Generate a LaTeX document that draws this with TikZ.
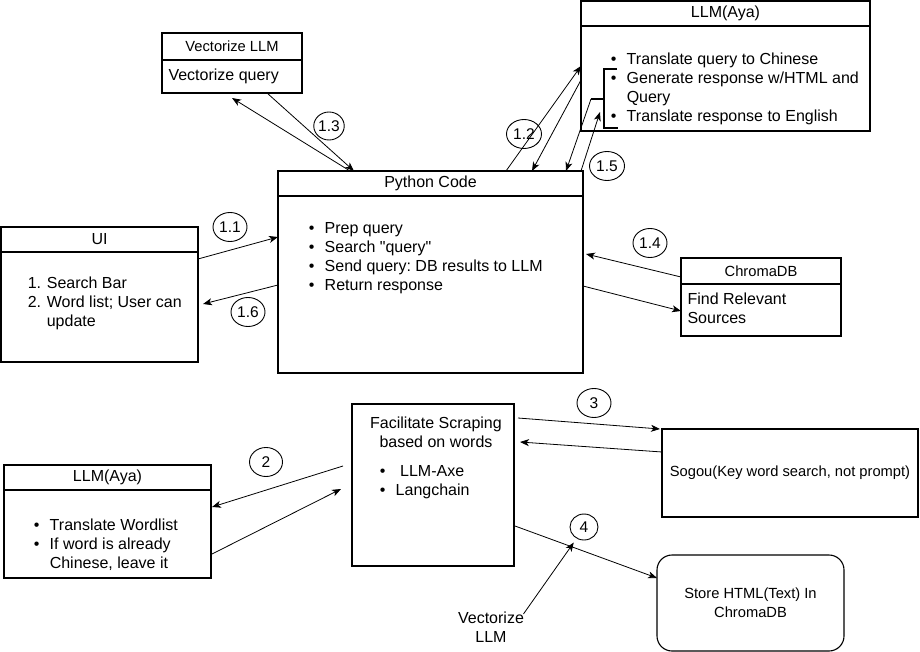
\documentclass[tikz,border=0pt]{standalone}
\usepackage{fontspec}
\setmainfont{Liberation Sans}
\usetikzlibrary{arrows.meta,shapes.geometric}

\newcommand{\blt}{\makebox[16pt][l]{\textbullet}}
\newcommand{\nbr}[1]{\makebox[19pt][l]{#1}}
\frenchspacing

\begin{document}
\begin{tikzpicture}[x = 1pt, y = -1pt, line width = 1.1pt,
                        font = \fontsize{16}{19}\selectfont,
                        box/.style = {draw, rectangle, anchor = north west, inner sep = 0pt, outer sep = 0pt},
                        small/.style = {font = \fontsize{14.7}{19}\selectfont},
                        txt/.style = {inner sep = 0pt, align = left, anchor = north west},
                        tag/.style = {draw, ellipse, inner sep = 0pt, minimum width = 34pt, minimum height = 29pt,
                                      line width = 0.9pt, font = \fontsize{15.5}{19}\selectfont},
                        link/.style = {line width = 0.8pt, -{Stealth[length = 9pt, width = 7pt, inset = 2.5pt]}}]
      \useasboundingbox (0, 0) rectangle (920, 652);

      \node [box, small, minimum width = 140pt, minimum height = 27pt] (vech) at (162, 33) {Vectorize LLM};
      \node [box, minimum width = 140pt, minimum height = 33pt] (vecb) at (162, 60) {};
      \node [txt] (vect) at (168, 68) {Vectorize query};

      \node [box, minimum width = 289pt, minimum height = 25pt] (llmh) at (581, 1) {LLM(Aya)};
      \node [box, minimum width = 289pt, minimum height = 105pt] (llmb) at (581, 26) {};
      \node [txt] (llmt) at (610.2, 52) {\blt Translate query to Chinese\\ \blt Generate response w/HTML and\\
                                         \hspace*{16pt}Query\\ \blt Translate response to English};

      \node [box, minimum width = 305pt, minimum height = 25pt] (pyh) at (278, 171) {Python Code};
      \node [box, minimum width = 305pt, minimum height = 177pt] (pyb) at (278, 196) {};
      \node [txt] (pyt) at (308.2, 222) {\blt Prep query\\ \blt Search \textquotedbl query\textquotedbl\\
                                         \blt Send query: DB results to LLM\\ \blt Return response};

      \node [box, minimum width = 197pt, minimum height = 25pt] (uih) at (1, 227) {UI};
      \node [box, minimum width = 197pt, minimum height = 110pt] (uib) at (1, 252) {};
      \node [txt] (uit) at (27.3, 276) {\nbr{1.}Search Bar\\ \nbr{2.}Word list; User can\\ \hspace*{19pt}update};

      \node [box, small, minimum width = 160pt, minimum height = 26pt] (chh) at (681, 258) {ChromaDB};
      \node [box, minimum width = 160pt, minimum height = 52pt] (chb) at (681, 284) {};
      \node [txt] (cht) at (687, 292) {Find Relevant\\ Sources};

      \node [box, minimum width = 162pt, minimum height = 162pt] (fac) at (352, 404) {};
      \node [txt, anchor = north, align = center] (fact) at (436, 416) {Facilitate Scraping\\ based on words};
      \node [txt] (facl) at (379.2, 465) {\blt\ LLM-Axe\\ \blt Langchain};

      \node [box, small, minimum width = 256pt, minimum height = 88pt] (sog) at (662, 429)
            {Sogou(Key word search, not prompt)};
      \node [box, small, rounded corners = 15pt, align = center, minimum width = 187pt, minimum height = 96pt]
            (sto) at (657, 555) {Store HTML(Text) In\\ ChromaDB};

      \node [box, minimum width = 207pt, minimum height = 25pt] (l2h) at (4, 465) {LLM(Aya)};
      \node [box, minimum width = 207pt, minimum height = 88pt] (l2b) at (4, 490) {};
      \node [txt] (l2t) at (33.2, 518) {\blt Translate Wordlist\\ \blt If word is already\\
                                        \hspace*{16pt}Chinese, leave it};

      \node [txt, anchor = north, align = center] (vl) at (491, 611) {Vectorize\\ LLM};

      \node [tag, minimum width = 30pt, minimum height = 28pt] (c13) at (329, 126) {1.3};
      \node [tag, minimum width = 35pt, minimum height = 29pt] (c12) at (524, 134) {1.2};
      \node [tag, minimum width = 35pt, minimum height = 29pt] (c15) at (607, 166) {1.5};
      \node [tag] (c11) at (230, 227) {1.1};
      \node [tag] (c16) at (248, 312) {1.6};
      \node [tag] (c14) at (650, 243) {1.4};
      \node [tag, minimum width = 33pt] (c2) at (266, 462) {2};
      \node [tag] (c3) at (594, 403) {3};
      \node [tag, minimum width = 28pt, minimum height = 26pt] (c4) at (584, 527) {4};

      \draw (617, 69) -- (604, 69) -- (604, 128) -- (618, 128);
      \draw (604, 99) -- (591, 99) coordinate (brk);
      \coordinate (brkin) at (600, 112);

      \draw [link] ([xshift = -35pt]vecb.south east) -- ([xshift = 76pt]pyh.north west);
      \draw [link] ([xshift = 72pt]pyh.north west) -- ([yshift = -5pt]vecb.south);
      \draw [link] ([xshift = 228pt]pyh.north west) -- ([yshift = -40pt]llmb.north west);
      \draw [link] ([yshift = -54pt]llmb.north west) -- ([xshift = 254pt]pyh.north west);
      \draw [link] (brk) -- ([xshift = 288pt]pyh.north west);
      \draw [link] ([xshift = -2pt]pyh.north east) -- (brkin);
      \draw [link] ([yshift = -7pt]uib.north east) -- ([yshift = -41pt]pyb.north west);
      \draw [link] ([yshift = -89pt]pyb.north west) -- ([xshift = 5pt, yshift = -52pt]uib.north east);
      \draw [link] ([yshift = -19pt]chh.north west) -- ([xshift = 3pt, yshift = -58pt]pyb.north east);
      \draw [link] ([yshift = -90pt]pyb.north east) -- ([yshift = -27pt]chb.north west);
      \draw [link] ([xshift = -9pt, yshift = -62pt]fac.north west) -- ([xshift = 1pt, yshift = -17pt]l2b.north east);
      \draw [link] ([xshift = 1pt, yshift = -64pt]l2b.north east) -- ([xshift = -11pt, yshift = -85pt]fac.north west);
      \draw [link] ([xshift = 4pt, yshift = -14pt]fac.north east) -- ([xshift = -2pt]sog.north west);
      \draw [link] ([yshift = -23pt]sog.north west) -- ([xshift = 6pt, yshift = -38pt]fac.north east);
      \draw [link] ([xshift = 1pt, yshift = 40pt]fac.south east) -- ([yshift = -23pt]sto.north west);
      \draw [link] ([xshift = -1pt, yshift = -3pt]vl.north east) -- ([yshift = -6pt]c4.south west);

      \end{tikzpicture}
\end{document}
